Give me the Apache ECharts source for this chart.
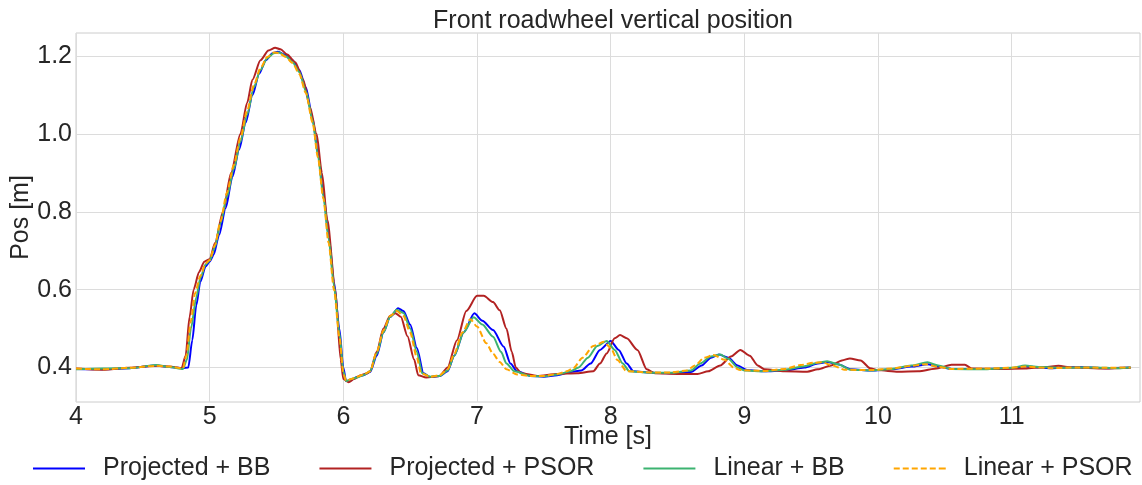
<!DOCTYPE html>
<html>
<head>
<meta charset="utf-8">
<script src="https://cdn.jsdelivr.net/npm/echarts@6/dist/echarts.min.js"></script>
<style>
  html, body { margin: 0; padding: 0; background: #ffffff; }
  #chart { width: 1142px; height: 485px; }
</style>
</head>
<body>
<div id="chart"></div>
<script>
// Front roadwheel vertical position, [time s, position m] per solver
const projectedBB = [
  [4.00,0.396],[4.20,0.395],[4.40,0.398],[4.60,0.405],[4.70,0.401],[4.80,0.398],[4.84,0.400],
  [4.87,0.47],[4.90,0.56],[4.93,0.62],[4.97,0.66],[5.00,0.672],[5.03,0.69],[5.07,0.74],
  [5.12,0.81],[5.17,0.89],[5.22,0.96],[5.27,1.03],[5.32,1.10],[5.37,1.155],[5.42,1.19],
  [5.47,1.208],[5.51,1.212],[5.56,1.205],[5.62,1.19],[5.67,1.165],[5.72,1.12],[5.77,1.04],
  [5.81,0.95],[5.85,0.85],[5.89,0.74],[5.93,0.62],[5.97,0.50],[6.00,0.40],[6.02,0.365],
  [6.06,0.368],[6.10,0.375],[6.15,0.38],[6.20,0.388],[6.25,0.43],[6.30,0.49],[6.35,0.53],
  [6.41,0.552],[6.45,0.545],[6.50,0.51],[6.55,0.45],[6.60,0.385],[6.65,0.375],[6.72,0.378],
  [6.78,0.39],[6.83,0.43],[6.90,0.49],[6.98,0.539],[7.04,0.52],[7.12,0.496],[7.20,0.453],
  [7.25,0.41],[7.30,0.39],[7.40,0.378],[7.50,0.376],[7.60,0.38],[7.70,0.388],[7.78,0.392],
  [7.85,0.41],[7.92,0.445],[8.00,0.468],[8.06,0.445],[8.12,0.41],[8.17,0.39],[8.30,0.386],
  [8.45,0.385],[8.60,0.388],[8.68,0.405],[8.75,0.425],[8.81,0.433],[8.88,0.425],[8.95,0.405],
  [9.02,0.393],[9.15,0.390],[9.30,0.392],[9.45,0.400],[9.55,0.410],[9.62,0.414],[9.70,0.408],
  [9.80,0.395],[9.95,0.392],[10.10,0.395],[10.25,0.402],[10.37,0.408],[10.45,0.402],
  [10.55,0.396],[10.80,0.396],[11.00,0.398],[11.10,0.402],[11.30,0.398],[11.50,0.401],
  [11.70,0.398],[11.89,0.400]
];

const projectedPSOR = [
  [4.00,0.397],[4.20,0.394],[4.40,0.399],[4.60,0.404],[4.70,0.402],[4.79,0.398],[4.82,0.43],
  [4.85,0.53],[4.88,0.60],[4.92,0.645],[4.96,0.672],[5.00,0.678],[5.04,0.72],[5.10,0.80],
  [5.16,0.90],[5.23,1.00],[5.28,1.08],[5.32,1.14],[5.38,1.19],[5.44,1.215],[5.49,1.222],
  [5.53,1.218],[5.58,1.205],[5.64,1.185],[5.70,1.14],[5.75,1.07],[5.80,1.00],[5.84,0.90],
  [5.88,0.78],[5.94,0.60],[5.98,0.42],[6.00,0.37],[6.04,0.362],[6.08,0.37],[6.13,0.38],
  [6.18,0.385],[6.20,0.39],[6.25,0.44],[6.30,0.50],[6.35,0.533],[6.39,0.539],[6.43,0.53],
  [6.48,0.48],[6.53,0.42],[6.56,0.38],[6.62,0.374],[6.72,0.378],[6.78,0.40],[6.85,0.47],
  [6.92,0.545],[7.00,0.584],[7.05,0.584],[7.12,0.568],[7.17,0.547],[7.22,0.50],[7.26,0.44],
  [7.29,0.40],[7.33,0.385],[7.45,0.378],[7.60,0.383],[7.75,0.385],[7.87,0.39],[7.92,0.41],
  [7.97,0.436],[8.03,0.475],[8.07,0.483],[8.12,0.475],[8.20,0.445],[8.27,0.395],[8.33,0.385],
  [8.50,0.383],[8.65,0.383],[8.73,0.39],[8.82,0.405],[8.90,0.428],[8.97,0.445],[9.04,0.43],
  [9.10,0.405],[9.15,0.395],[9.30,0.390],[9.47,0.389],[9.55,0.395],[9.65,0.405],[9.73,0.418],
  [9.79,0.423],[9.87,0.418],[9.94,0.398],[10.00,0.393],[10.15,0.389],[10.30,0.390],
  [10.45,0.398],[10.55,0.407],[10.65,0.407],[10.70,0.397],[10.90,0.396],[11.10,0.397],
  [11.25,0.401],[11.35,0.404],[11.45,0.400],[11.70,0.397],[11.89,0.399]
];

const linearBB = [
  [4.00,0.395],[4.20,0.397],[4.40,0.398],[4.60,0.406],[4.70,0.401],[4.80,0.396],[4.83,0.42],
  [4.86,0.50],[4.90,0.58],[4.93,0.63],[4.97,0.665],[5.00,0.675],[5.04,0.71],[5.08,0.77],
  [5.13,0.84],[5.18,0.91],[5.23,0.98],[5.28,1.05],[5.33,1.12],[5.38,1.165],[5.43,1.195],
  [5.48,1.208],[5.52,1.21],[5.57,1.20],[5.62,1.185],[5.67,1.16],[5.72,1.11],[5.77,1.035],
  [5.81,0.945],[5.85,0.84],[5.89,0.73],[5.93,0.61],[5.97,0.49],[6.00,0.39],[6.02,0.365],
  [6.06,0.37],[6.10,0.374],[6.15,0.38],[6.20,0.39],[6.25,0.435],[6.30,0.49],[6.35,0.53],
  [6.40,0.548],[6.45,0.54],[6.50,0.50],[6.55,0.44],[6.59,0.385],[6.65,0.376],[6.72,0.378],
  [6.78,0.392],[6.83,0.43],[6.90,0.49],[6.975,0.529],[7.04,0.51],[7.12,0.479],[7.18,0.44],
  [7.22,0.41],[7.28,0.39],[7.40,0.378],[7.50,0.377],[7.60,0.382],[7.70,0.39],[7.76,0.40],
  [7.83,0.425],[7.90,0.455],[7.97,0.468],[8.03,0.445],[8.09,0.41],[8.14,0.39],[8.30,0.386],
  [8.45,0.386],[8.60,0.392],[8.67,0.41],[8.75,0.428],[8.82,0.433],[8.88,0.422],[8.95,0.40],
  [9.00,0.392],[9.15,0.390],[9.30,0.394],[9.45,0.403],[9.55,0.412],[9.62,0.416],[9.70,0.408],
  [9.80,0.394],[9.95,0.392],[10.10,0.396],[10.25,0.405],[10.37,0.413],[10.45,0.405],
  [10.55,0.396],[10.80,0.395],[11.00,0.399],[11.10,0.405],[11.20,0.401],[11.40,0.399],
  [11.60,0.400],[11.80,0.398],[11.89,0.400]
];

const linearPSOR = [
  [4.00,0.397],[4.20,0.395],[4.40,0.399],[4.60,0.404],[4.70,0.402],[4.80,0.397],[4.825,0.43],
  [4.86,0.52],[4.89,0.59],[4.93,0.635],[4.97,0.668],[5.00,0.676],[5.04,0.715],[5.08,0.775],
  [5.13,0.85],[5.18,0.92],[5.23,0.99],[5.28,1.06],[5.33,1.125],[5.38,1.17],[5.43,1.198],
  [5.48,1.21],[5.52,1.208],[5.57,1.198],[5.62,1.183],[5.67,1.155],[5.72,1.105],[5.77,1.03],
  [5.81,0.94],[5.85,0.835],[5.89,0.72],[5.93,0.60],[5.97,0.48],[6.00,0.385],[6.02,0.366],
  [6.06,0.37],[6.10,0.376],[6.15,0.381],[6.20,0.39],[6.25,0.44],[6.30,0.495],[6.35,0.532],
  [6.40,0.545],[6.45,0.532],[6.50,0.49],[6.55,0.425],[6.58,0.385],[6.65,0.376],[6.72,0.38],
  [6.78,0.395],[6.83,0.435],[6.89,0.49],[6.95,0.524],[7.00,0.505],[7.07,0.462],[7.12,0.435],
  [7.17,0.414],[7.22,0.395],[7.30,0.382],[7.40,0.378],[7.50,0.378],[7.60,0.383],[7.67,0.39],
  [7.72,0.398],[7.79,0.425],[7.87,0.455],[7.95,0.466],[8.00,0.45],[8.05,0.419],[8.12,0.39],
  [8.30,0.387],[8.45,0.387],[8.57,0.392],[8.63,0.405],[8.70,0.425],[8.77,0.432],[8.85,0.42],
  [8.92,0.40],[8.97,0.393],[9.15,0.391],[9.30,0.396],[9.42,0.406],[9.52,0.412],[9.58,0.413],
  [9.66,0.405],[9.75,0.394],[9.95,0.393],[10.10,0.397],[10.25,0.404],[10.36,0.408],
  [10.45,0.401],[10.55,0.396],[10.80,0.397],[11.00,0.399],[11.10,0.402],[11.30,0.398],
  [11.50,0.400],[11.70,0.399],[11.89,0.400]
];

const seriesNames = ['Projected + BB', 'Projected + PSOR', 'Linear + BB', 'Linear + PSOR'];
const yTicks = [0.4, 0.6, 0.8, 1.0, 1.2];
const xTicks = [4, 5, 6, 7, 8, 9, 10, 11];

const FONT = '"Liberation Sans", Arial, sans-serif';
const TEXT = '#262626';
const GRID = '#dcdcdc';

// legend keys: a plain stroke, and a dashed stroke built from short bars
const SOLID_KEY = 'path://M0,0H52V2H0Z';
const DASHED_KEY = 'path://M0,0H6V2H0Z M9,0H15V2H9Z M18,0H24V2H18Z M27,0H33V2H27Z M36,0H42V2H36Z M45,0H51V2H45Z M51,0H52V2H51Z';

const chart = echarts.init(document.getElementById('chart'), null, { renderer: 'canvas' });

function lineSeries(name, data, color, dashed) {
  return {
    name: name,
    type: 'line',
    data: data,
    showSymbol: false,
    symbol: 'none',
    smooth: 0.25,
    smoothMonotone: 'x',
    animation: false,
    lineStyle: { color: color, width: 2, type: dashed ? [6, 3] : 'solid' },
    itemStyle: { color: color },
    emphasis: { disabled: true }
  };
}

chart.setOption({
  animation: false,
  backgroundColor: '#ffffff',
  title: {
    text: 'Front roadwheel vertical position',
    left: 608,
    textAlign: 'center',
    top: 4,
    textStyle: { fontFamily: FONT, fontSize: 25, fontWeight: 'normal', color: TEXT }
  },
  grid: {
    left: 76, right: 2, top: 33, bottom: 83,
    outerBoundsMode: 'none',
    containLabel: false,
    show: true, borderColor: '#cccccc', borderWidth: 1, backgroundColor: 'transparent'
  },
  legend: {
    data: [
      { name: seriesNames[0], icon: SOLID_KEY },
      { name: seriesNames[1], icon: SOLID_KEY },
      { name: seriesNames[2], icon: SOLID_KEY },
      { name: seriesNames[3], icon: DASHED_KEY }
    ],
    left: 33,
    top: 456,
    width: 1140,
    padding: 0,
    itemWidth: 52,
    itemHeight: 14,
    itemGap: 49,
    textStyle: { fontFamily: FONT, fontSize: 25, color: TEXT, padding: [0, 0, 0, 13] }
  },
  xAxis: {
    type: 'value',
    min: 4,
    max: 11.96,
    interval: 1,
    name: 'Time [s]',
    nameLocation: 'middle',
    nameGap: 23,
    nameMoveOverlap: false,
    nameTextStyle: { fontFamily: FONT, fontSize: 25, color: TEXT },
    axisLine: { show: false },
    axisTick: { show: false, customValues: xTicks },
    axisLabel: {
      customValues: xTicks,
      margin: 3,
      alignMinLabel: 'center',
      alignMaxLabel: 'center',
      fontFamily: FONT, fontSize: 25, color: TEXT,
      formatter: v => String(v)
    },
    splitLine: { show: true, lineStyle: { color: GRID, width: 1 } }
  },
  yAxis: {
    type: 'value',
    min: 0.311,
    max: 1.26,
    name: 'Pos [m]',
    nameLocation: 'middle',
    nameGap: 42,
    nameMoveOverlap: false,
    nameTextStyle: { fontFamily: FONT, fontSize: 25, color: TEXT },
    axisLine: { show: false },
    axisTick: { show: false, customValues: yTicks },
    axisLabel: {
      customValues: yTicks,
      margin: 4,
      fontFamily: FONT, fontSize: 25, color: TEXT,
      formatter: v => v.toFixed(1)
    },
    splitLine: { show: true, lineStyle: { color: GRID, width: 1 } }
  },
  series: [
    lineSeries(seriesNames[0], projectedBB, '#0000ff', false),
    lineSeries(seriesNames[1], projectedPSOR, '#b22222', false),
    lineSeries(seriesNames[2], linearBB, '#3cb371', false),
    lineSeries(seriesNames[3], linearPSOR, '#ffa500', true)
  ]
});
</script>
</body>
</html>
